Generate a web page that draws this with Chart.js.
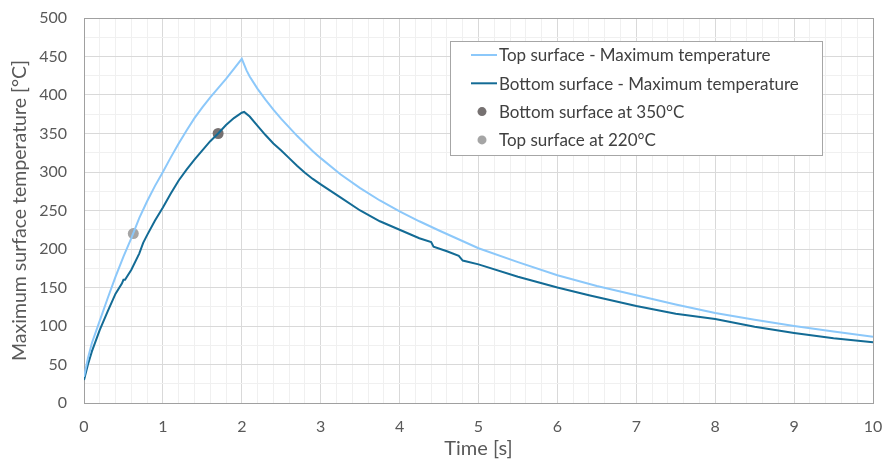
<!DOCTYPE html>
<html>
<head>
<meta charset="utf-8">
<script src="https://cdn.jsdelivr.net/npm/chart.js@4/dist/chart.umd.min.js"></script>
<style>
  html, body { margin: 0; padding: 0; background: #fff; }
  #wrap { width: 884px; height: 459px; position: relative; }
</style>
</head>
<body>
<div id="wrap"><canvas id="tempChart"></canvas></div>
<script>
"use strict"

// values
const topTime = [0, 0.05, 0.1, 0.2, 0.3, 0.4, 0.5, 0.6, 0.7, 0.8, 0.9, 1.0, 1.1, 1.2, 1.3, 1.4, 1.5, 1.6, 1.7, 1.8, 1.9, 2.0,
  2.06, 2.1, 2.2, 2.3, 2.4, 2.5, 2.6, 2.7, 2.8, 2.9, 3.0, 3.25, 3.5, 3.75, 4.0, 4.25, 4.5, 5.0, 5.5, 6.0, 6.5, 7.0, 7.5, 8.0, 8.5, 9.0, 9.5, 10];
const topTemp = [34, 58, 78, 107, 136, 164, 190, 214, 240, 262, 282, 300, 319, 337, 354, 370, 384, 397, 409, 421, 434, 447,
  432, 424, 408, 394, 381, 369, 358, 347, 337, 327, 318, 297, 279, 263, 249, 236, 224, 201, 183, 166, 152, 140, 128, 117, 108, 100, 93, 86];

const bottomTime = [0, 0.05, 0.1, 0.2, 0.3, 0.4, 0.48, 0.5, 0.52, 0.6, 0.7, 0.75, 0.8, 0.9, 1.0, 1.1, 1.2, 1.3, 1.4, 1.5, 1.6, 1.7, 1.8, 1.9, 2.0, 2.03,
  2.1, 2.2, 2.3, 2.4, 2.5, 2.6, 2.7, 2.8, 2.9, 3.0, 3.25, 3.5, 3.75, 4.0, 4.25, 4.4, 4.43, 4.6, 4.75, 4.8, 5.0, 5.5, 6.0, 6.4, 7.0, 7.5, 8.0, 8.5, 9.0, 9.5, 10];
const bottomTemp = [30, 50, 67, 95, 119, 142, 155, 160, 160, 173, 194, 208, 218, 237, 254, 272, 289, 303, 316, 328, 340, 350, 361, 370, 377, 378,
  372, 360, 348, 337, 328, 318, 308, 299, 291, 284, 267, 250, 236, 225, 214, 209, 203, 197, 191, 185, 180, 164, 150, 140, 126, 116, 109, 99, 91, 84, 79];

const bottomMark = [1.7, 350];
const topMark = [0.625, 220];

const seriesLabels = ["Top surface - Maximum temperature", "Bottom surface - Maximum temperature",
  "Bottom surface at 350°C", "Top surface at 220°C"];

const xTitle = "Time [s]";
const yTitle = "Maximum surface temperature [°C]";

const FONT = "Lato, 'Open Sans', sans-serif";
const textGray = "#595959";

function pts(xs, ys) {
  return xs.map((x, i) => ({ x: x, y: ys[i] }));
}

function isWhole(v, step) {
  const r = v / step;
  return Math.abs(r - Math.round(r)) < 1e-6;
}

// legend box drawn inside the plot, top right
const boxLegend = {
  id: 'boxLegend',
  afterDraw(chart) {
    const ctx = chart.ctx;
    const x0 = 450, y0 = 41, w = 372, h = 114;
    ctx.save();
    ctx.fillStyle = '#fff';
    ctx.fillRect(x0, y0, w, h);
    ctx.strokeStyle = '#a6a6a6';
    ctx.lineWidth = 1;
    ctx.strokeRect(x0 + 0.5, y0 + 0.5, w, h);
    ctx.font = "17px " + FONT;
    ctx.textBaseline = 'middle';
    chart.data.datasets.forEach((ds, i) => {
      const cy = 55 + i * 28.3;
      if (ds.showLine === false) {
        ctx.fillStyle = ds.backgroundColor;
        ctx.beginPath();
        ctx.arc(482, cy, 4.5, 0, Math.PI * 2);
        ctx.fill();
      } else {
        ctx.strokeStyle = ds.borderColor;
        ctx.lineWidth = 2;
        ctx.beginPath();
        ctx.moveTo(471, cy);
        ctx.lineTo(497, cy);
        ctx.stroke();
      }
      ctx.fillStyle = '#404040';
      ctx.fillText(ds.label, 499, cy + 1);
    });
    ctx.restore();
  }
};

// plot area frame
const frame = {
  id: 'frame',
  beforeDatasetsDraw(chart) {
    const a = chart.chartArea;
    const ctx = chart.ctx;
    ctx.save();
    ctx.strokeStyle = '#a0a0a0';
    ctx.lineWidth = 1;
    ctx.strokeRect(Math.round(a.left) + 0.5, Math.round(a.top) + 0.5, Math.round(a.right - a.left), Math.round(a.bottom - a.top));
    ctx.restore();
  }
};

new Chart("tempChart", {
  type: "scatter",
  data: {
    datasets: [{
      label: seriesLabels[0],
      data: pts(topTime, topTemp),
      showLine: true,
      borderColor: "#8cc8fa",
      borderWidth: 2,
      pointRadius: 0,
      tension: 0
    }, {
      label: seriesLabels[1],
      data: pts(bottomTime, bottomTemp),
      showLine: true,
      borderColor: "#136b95",
      borderWidth: 2,
      pointRadius: 0,
      tension: 0
    }, {
      label: seriesLabels[2],
      data: [{ x: bottomMark[0], y: bottomMark[1] }],
      showLine: false,
      backgroundColor: "#767171",
      borderWidth: 0,
      pointRadius: 5.5
    }, {
      label: seriesLabels[3],
      data: [{ x: topMark[0], y: topMark[1] }],
      showLine: false,
      backgroundColor: "#a5a5a5",
      borderWidth: 0,
      pointRadius: 5.5
    }]
  },
  options: {
    responsive: true,
    maintainAspectRatio: false,
    animation: false,
    layout: { padding: { left: 0, right: 11, top: 18, bottom: 0 } },
    plugins: {
      legend: { display: false },
      tooltip: { enabled: false }
    },
    scales: {
      x: {
        type: "linear",
        min: 0,
        max: 10,
        afterFit(scale) {
          scale.height = 56;
          scale.paddingLeft = 0;
          scale.paddingRight = 0;
        },
        border: { display: false },
        grid: {
          drawTicks: false,
          color: ctx => isWhole(ctx.tick.value, 1) ? "#d9d9d9" : "#f0f0f0"
        },
        ticks: {
          stepSize: 0.2,
          autoSkip: false,
          maxRotation: 0,
          padding: 14,
          color: textGray,
          font: { family: FONT, size: 16 },
          callback: v => isWhole(v, 1) ? String(Math.round(v)) : ""
        },
        title: {
          display: true,
          text: xTitle,
          color: textGray,
          font: { family: FONT, size: 20, lineHeight: 1.0 },
          padding: { top: 0, bottom: 0 }
        }
      },
      y: {
        min: 0,
        max: 500,
        afterFit(scale) {
          scale.width = 84;
          scale.paddingTop = 0;
          scale.paddingBottom = 0;
        },
        border: { display: false },
        grid: {
          drawTicks: false,
          color: ctx => isWhole(ctx.tick.value, 50) ? "#d9d9d9" : "#f0f0f0"
        },
        ticks: {
          stepSize: 25,
          autoSkip: false,
          padding: 17,
          color: textGray,
          font: { family: FONT, size: 16 },
          callback: v => isWhole(v, 50) ? String(Math.round(v)) : ""
        },
        title: {
          display: true,
          text: yTitle,
          color: textGray,
          font: { family: FONT, size: 19.5, lineHeight: 1.2 },
          padding: { top: 8, bottom: 0 }
        }
      }
    }
  },
  plugins: [frame, boxLegend]
});
</script>
</body>
</html>
